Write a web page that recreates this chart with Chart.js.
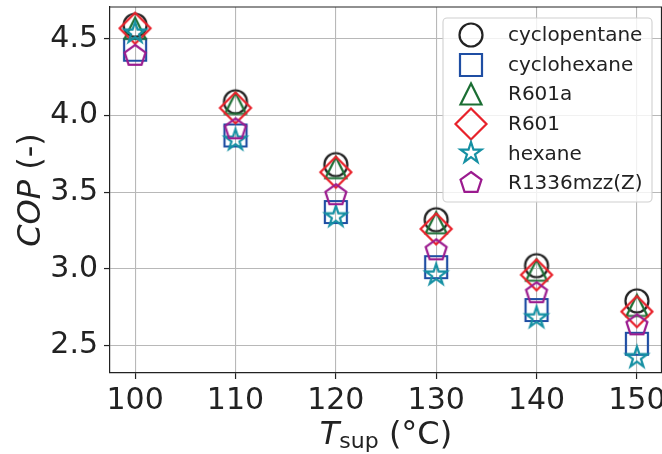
<!DOCTYPE html>
<html>
<head>
<meta charset="utf-8">
<script src="https://cdn.jsdelivr.net/npm/chart.js@4.4.1/dist/chart.umd.min.js"></script>
<style>
  html, body { margin: 0; padding: 0; background: #fff; }
  #wrap { width: 662px; height: 454px; }
</style>
</head>
<body>
<div id="wrap"><canvas id="cop"></canvas></div>
<script>
const temps  = [100, 110, 120, 130, 140, 150]
const xTicks = [100, 110, 120, 130, 140, 150]
const yTicks = [2.5, 3.0, 3.5, 4.0, 4.5]

const names = ["cyclopentane", "cyclohexane", "R601a", "R601", "hexane", "R1336mzz(Z)"]
const cyclopentane = [4.59, 4.09, 3.68, 3.32, 3.02, 2.79]
const cyclohexane  = [4.43, 3.87, 3.37, 3.01, 2.73, 2.51]
const r601a        = [4.57, 4.08, 3.66, 3.30, 2.99, 2.76]
const r601         = [4.57, 4.05, 3.63, 3.26, 2.96, 2.72]
const hexane       = [4.54, 3.84, 3.34, 2.96, 2.68, 2.42]
const r1336mzz     = [4.39, 3.91, 3.48, 3.12, 2.84, 2.63]

const series = [cyclopentane, cyclohexane, r601a, r601, hexane, r1336mzz]
const shapes = ["circle", "square", "triangle", "diamond", "star", "pentagon"]
const colors = ["#222222", "#1f4ea3", "#1b6e33", "#e8222b", "#1590a3", "#9b1b8f"]

const FONT = "'DejaVu Sans', sans-serif"
const INK = "#222"

// open markers drawn once on small canvases, used as point styles
const polygon = (g, pts) => {
    g.moveTo(pts[0][0], pts[0][1])
    for (let k = 1; k < pts.length; k++) g.lineTo(pts[k][0], pts[k][1])
}
const ring = (n, r, innerRatio) => {
    let pts = []
    let steps = innerRatio ? n * 2 : n
    for (let k = 0; k < steps; k++) {
        let a = -Math.PI / 2 + k * 2 * Math.PI / steps
        let rr = innerRatio && k % 2 ? r * innerRatio : r
        pts.push([Math.cos(a) * rr, Math.sin(a) * rr])
    }
    return pts
}
const marker = (shape, color) => {
    const c = document.createElement("canvas")
    c.width = 40
    c.height = 40
    const g = c.getContext("2d")
    g.translate(20, 20)
    g.strokeStyle = color
    g.lineWidth = 2.2
    g.lineJoin = "miter"
    g.beginPath()
    switch (shape) {
        case "circle":
            g.arc(0, 0, 11.5, 0, Math.PI * 2)
            break
        case "square":
            g.rect(-11, -11, 22, 22)
            break
        case "triangle":
            polygon(g, [[0, -10.5], [-10.5, 10.5], [10.5, 10.5]])
            break
        case "diamond":
            polygon(g, [[0, -15.5], [15.5, 0], [0, 15.5], [-15.5, 0]])
            break
        case "star":
            polygon(g, ring(5, 11, 0.381966))
            break
        case "pentagon":
            polygon(g, ring(5, 11))
            break
    }
    g.closePath()
    g.stroke()
    return c
}

const datasets = series.map((vals, i) => ({
    label: names[i],
    data: temps.map((t, j) => ({ x: t, y: vals[j] })),
    pointStyle: marker(shapes[i], colors[i]),
    pointRadius: 12,
    borderColor: colors[i],
    backgroundColor: "rgba(0,0,0,0)",
    showLine: false,
    order: series.length - i   // later series on top
}))

// top/right spines and the two axis titles
const frame = {
    id: "frame",
    afterDraw(chart) {
        const { ctx, chartArea: a } = chart
        ctx.save()
        ctx.strokeStyle = INK
        ctx.lineWidth = 1.2
        ctx.beginPath()
        ctx.moveTo(a.left, a.top)
        ctx.lineTo(a.right - 0.5, a.top)
        ctx.lineTo(a.right - 0.5, a.bottom)
        ctx.stroke()

        ctx.fillStyle = INK
        ctx.textBaseline = "alphabetic"

        // y title: italic COP then " (-)"
        const itY = "italic 32px " + FONT, upY = "32px " + FONT
        ctx.font = itY
        const w1 = ctx.measureText("COP").width
        ctx.font = upY
        const w2 = ctx.measureText(" (-)").width
        ctx.save()
        ctx.translate(40, 190)
        ctx.rotate(-Math.PI / 2)
        let sx = -(w1 + w2) / 2
        ctx.font = itY
        ctx.fillText("COP", sx, 0)
        ctx.font = upY
        ctx.fillText(" (-)", sx + w1, 0)
        ctx.restore()

        // x title: T with subscript "sup", then " (°C)"
        const itX = "italic 32px " + FONT, subX = "22px " + FONT, upX = "32px " + FONT
        ctx.font = itX
        const tw = ctx.measureText("T").width
        ctx.font = subX
        const sw = ctx.measureText("sup").width
        ctx.font = upX
        const rw = ctx.measureText(" (°C)").width
        let x0 = (a.left + a.right) / 2 - (tw + sw + rw) / 2
        const base = 444
        ctx.font = itX
        ctx.fillText("T", x0, base)
        ctx.font = subX
        ctx.fillText("sup", x0 + tw, base + 4)
        ctx.font = upX
        ctx.fillText(" (°C)", x0 + tw + sw, base)
        ctx.restore()
    }
}

// legend box in the upper right corner of the plot
const legendBox = {
    id: "legendBox",
    afterDraw(chart) {
        const { ctx } = chart
        const bx = 443, by = 18, bw = 209, bh = 184, r = 4
        ctx.save()
        ctx.beginPath()
        ctx.moveTo(bx + r, by)
        ctx.arcTo(bx + bw, by, bx + bw, by + bh, r)
        ctx.arcTo(bx + bw, by + bh, bx, by + bh, r)
        ctx.arcTo(bx, by + bh, bx, by, r)
        ctx.arcTo(bx, by, bx + bw, by, r)
        ctx.closePath()
        ctx.fillStyle = "rgba(255,255,255,0.8)"
        ctx.fill()
        ctx.strokeStyle = "#d0d0d0"
        ctx.lineWidth = 1.1
        ctx.stroke()

        ctx.font = "20px " + FONT
        ctx.fillStyle = INK
        ctx.textBaseline = "middle"
        chart.data.datasets.forEach((ds, i) => {
            const y = 35 + i * 29.6
            ctx.drawImage(ds.pointStyle, 471 - 20, Math.round(y) - 20)
            ctx.fillText(ds.label, 508, y + 1)
        })
        ctx.restore()
    }
}

new Chart(document.getElementById("cop"), {
    type: "scatter",
    data: { datasets },
    options: {
        responsive: true,
        maintainAspectRatio: false,
        animation: false,
        events: [],
        layout: { autoPadding: false, padding: { top: 7, left: 0, right: 0, bottom: 0 } },
        plugins: {
            legend: { display: false },
            tooltip: { enabled: false }
        },
        scales: {
            x: {
                type: "linear",
                min: 97.5,
                max: 152.5,
                afterBuildTicks: s => { s.ticks = xTicks.map(v => ({ value: v })) },
                afterFit: s => { s.height = 81; s.paddingLeft = 0; s.paddingRight = 0 },
                ticks: {
                    font: { family: FONT, size: 30 },
                    color: INK,
                    padding: 4,
                    maxRotation: 0,
                    callback: v => String(v)
                },
                grid: {
                    color: "#b8b8b8",
                    lineWidth: 1.1,
                    tickLength: 6,
                    tickColor: INK,
                    tickWidth: 1.2
                },
                border: { color: INK, width: 1.2 }
            },
            y: {
                min: 2.319,
                max: 4.709,
                afterBuildTicks: s => { s.ticks = yTicks.map(v => ({ value: v })) },
                afterFit: s => { s.width = 110; s.paddingTop = 0; s.paddingBottom = 0 },
                ticks: {
                    font: { family: FONT, size: 30 },
                    color: INK,
                    padding: 6,
                    callback: v => v.toFixed(1)
                },
                grid: {
                    color: "#b8b8b8",
                    lineWidth: 1.1,
                    tickLength: 6,
                    tickColor: INK,
                    tickWidth: 1.2
                },
                border: { color: INK, width: 1.2 }
            }
        }
    },
    plugins: [frame, legendBox]
})
</script>
</body>
</html>
